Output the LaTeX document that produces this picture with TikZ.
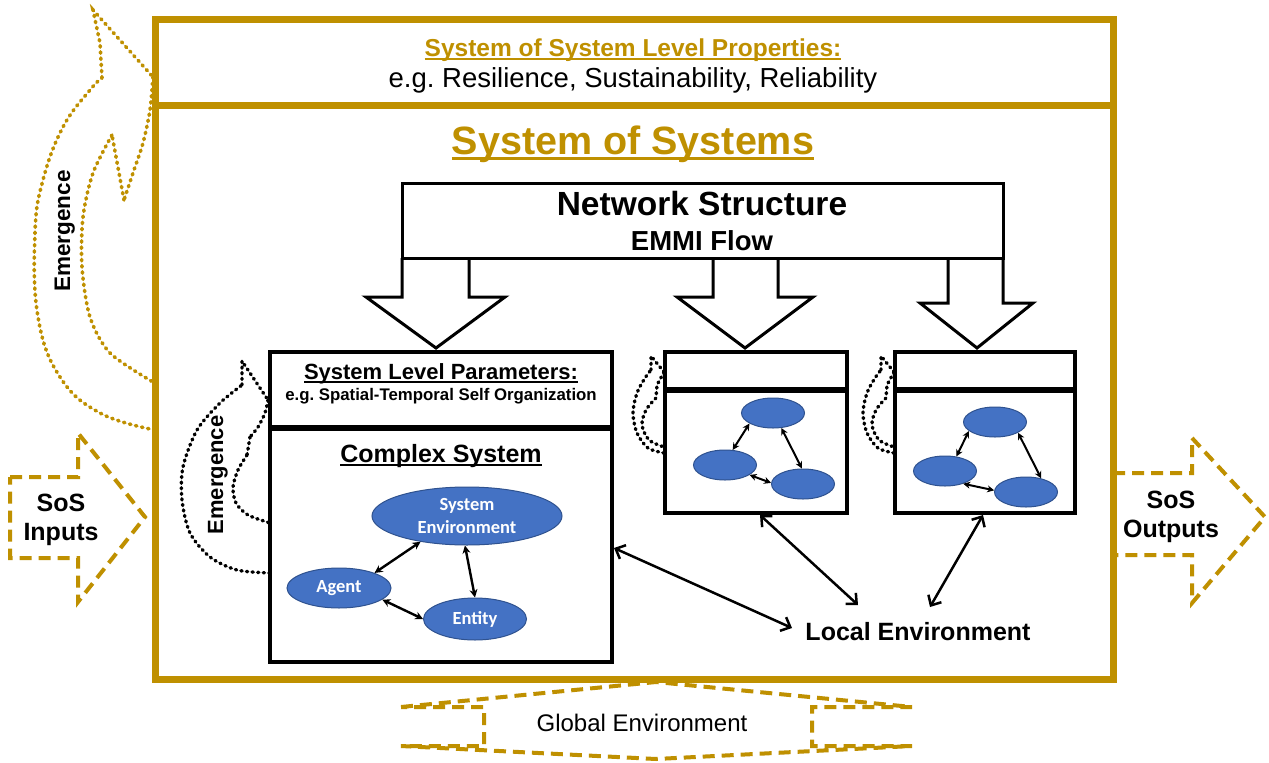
\documentclass[tikz,border=0pt]{standalone}
\usepackage{fontspec}
\setmainfont{Liberation Sans}
\newfontfamily\calib{Carlito}
\usetikzlibrary{arrows.meta,shapes.geometric}
\definecolor{gold}{RGB}{191,144,0}
\definecolor{eblue}{RGB}{68,114,196}
\definecolor{eborder}{RGB}{47,82,143}
\newcommand{\myul}[1]{\setbox0\hbox{#1}\leavevmode\rlap{\rule[-0.16em]{\wd0}{0.075em}}\box0}
\newcommand{\fsz}[1]{\fontsize{#1}{#1}\selectfont}
\frenchspacing
\begin{document}
\begin{tikzpicture}[x=1pt,y=-1pt,
  txt/.style={inner sep=0pt, anchor=base},
  bbox/.style={draw, line width=4pt, rectangle, inner sep=0pt},
  ell/.style={ellipse, fill=eblue, draw=eborder, line width=1pt, inner sep=0pt, text=white, font=\calib\bfseries\fontsize{18.5}{23}\selectfont, align=center},
  sell/.style={ellipse, fill=eblue, draw=eborder, line width=1pt, inner sep=0pt, minimum width=63pt, minimum height=30pt},
  sa/.style={line width=2.4pt, {Stealth[length=8pt,width=8pt]}-{Stealth[length=8pt,width=8pt]}},
  ssa/.style={line width=2pt, {Stealth[length=7pt,width=7pt]}-{Stealth[length=7pt,width=7pt]}},
  lea/.style={line width=2.5pt, {Straight Barb[length=8pt,width=15pt]}-{Straight Barb[length=8pt,width=15pt]}},
  gdash/.style={draw=gold, line width=4pt, dash pattern=on 12pt off 7pt},
  gdot/.style={draw=gold, line width=3.6pt, line cap=round, dash pattern=on 1.4pt off 4.8pt},
  bdot/.style={draw=black, line width=3.4pt, line cap=round, dash pattern=on 1.2pt off 4.4pt},
  barrow/.style={draw, line width=3pt, line join=miter}
]
\fill[white] (0,0) rectangle (1269,763);
\useasboundingbox (0,0) rectangle (1269,763);

% ---- gold emergence curved arrow (left)
\draw[gdot] plot[smooth, tension=0.7] coordinates {(155,430) (100,413) (60,377) (38,317) (35,233) (43,180) (63,127) (90,90) (102,78)};
\draw[gdot] (102,78) -- (100,43) -- (93,10) -- (153,77);
\draw[gdot] plot[smooth] coordinates {(153,77) (150,110) (143,143) (133,173) (124,200)};
\draw[gdot] (124,200) -- (112,135);
\draw[gdot] plot[smooth] coordinates {(112,135) (93,173) (83,217) (82,267) (90,317) (110,353) (153,382)};
\node[txt, rotate=90, font=\bfseries\fsz{22.5}] (emg1) at (70,231) {Emergence};

% ---- SoS inputs / outputs
\draw[gdash] (10,477) -- (78,477) -- (78,433) -- (145,517) -- (78,602) -- (78,558) -- (10,558) -- cycle;
\node[align=center, inner sep=0pt, font=\bfseries\fontsize{25}{29}\selectfont] (inp) at (61,520) {SoS\\Inputs};
\draw[gdash] (1113,473) -- (1192,473) -- (1192,438) -- (1265,517) -- (1192,603) -- (1192,555) -- (1113,555);
\node[align=center, inner sep=0pt, font=\bfseries\fontsize{25}{29}\selectfont] (outp) at (1171,517) {SoS\\Outputs};

% ---- global environment
\draw[gdash] (401,707) -- (656,682) -- (912,707) -- (812,707) -- (812,746) -- (912,746) -- (656,759) -- (401,746) -- (484,746) -- (484,707) -- cycle;
\node[txt, font=\fsz{24}] (glob) at (642,731) {Global Environment};

% ---- outer SoS frame
\node[draw=gold, line width=7pt, minimum width=958pt, minimum height=660pt, inner sep=0pt] (sos) at (634,349) {};
\draw[gold, line width=7pt] ([yshift=-90pt]sos.north west) -- ([yshift=-90pt]sos.north east);
\node[txt, text=gold, font=\bfseries\fsz{24.5}] (soslp) at (633,56) {\myul{System of System Level Properties:}};
\node[txt, font=\fsz{27.5}] (eg1) at (633,87) {e.g. Resilience, Sustainability, Reliability};
\node[txt, text=gold, font=\bfseries\fsz{39.5}] (sostitle) at (633,154) {\myul{System of Systems}};

% ---- network structure
\draw[barrow] (402,258) -- (402,297) -- (366,297) -- (436,348) -- (505,297) -- (469,297) -- (469,258);
\draw[barrow] (713,258) -- (713,297) -- (677,297) -- (745,348) -- (813,297) -- (778,297) -- (778,258);
\draw[barrow] (948,258) -- (948,303) -- (920,303) -- (977,348) -- (1033,303) -- (1003,303) -- (1003,258);
\node[draw, line width=3pt, minimum width=601pt, minimum height=75pt, inner sep=0pt] (net) at (702.5,220.5) {};
\node[txt, font=\bfseries\fsz{33.5}] (netname) at (702,215) {Network Structure};
\node[txt, font=\bfseries\fsz{27.5}] (emmi) at (702,250) {EMMI Flow};

% ---- complex system boxes
\node[bbox, minimum width=342pt, minimum height=310pt] (cs1) at (441,507) {};
\draw[line width=6pt] ([yshift=-78pt]cs1.north west) -- ([yshift=-78pt]cs1.north east);
\node[bbox, minimum width=182pt, minimum height=161pt] (cs2) at (756,432.5) {};
\draw[line width=6pt] ([yshift=-40pt]cs2.north west) -- ([yshift=-40pt]cs2.north east);
\node[bbox, minimum width=180pt, minimum height=161pt] (cs3) at (985,432.5) {};
\draw[line width=6pt] ([yshift=-40pt]cs3.north west) -- ([yshift=-40pt]cs3.north east);

\node[txt, font=\bfseries\fsz{22}] (slp) at (441,379) {\myul{System Level Parameters:}};
\node[txt, font=\bfseries\fsz{16.8}] (egs) at (441,400) {e.g. Spatial-Temporal Self Organization};
\node[txt, font=\bfseries\fsz{25}] (cstitle) at (441,462) {\myul{Complex System}};

\node[ell, minimum width=190pt, minimum height=58pt] (senv) at (467,516) {System\\Environment};
\node[ell, minimum width=104pt, minimum height=40pt] (agent) at (339,588) {Agent};
\node[ell, minimum width=103pt, minimum height=42pt] (entity) at (475,619) {Entity};
\draw[sa] (agent.23) -- (senv.209);
\draw[sa] (senv.266) -- (entity.90);
\draw[sa] (agent.345) -- (entity.180);

\node[sell] (b2a) at (773,413) {};
\node[sell] (b2b) at (725,465) {};
\node[sell] (b2c) at (803,484) {};
\draw[ssa] (b2a.204) -- (b2b.63);
\draw[ssa] (b2a.299) -- (b2c.94);
\draw[ssa] (b2b.338) -- (b2c.178);

\node[sell] (b3a) at (995,422) {};
\node[sell] (b3b) at (945,471) {};
\node[sell] (b3c) at (1026,492) {};
\draw[ssa] (b3a.199) -- (b3b.52);
\draw[ssa] (b3a.335) -- (b3c.42);
\draw[ssa] (b3b.325) -- (b3c.177);

% ---- small emergence arrows
\draw[bdot] plot[smooth] coordinates {(270,573) (237,570) (210,557) (190,533) (182,500) (183,467) (197,430) (220,403) (242,385)};
\draw[bdot] (242,385) -- (242,361) -- (268,400);
\draw[bdot] plot[smooth] coordinates {(268,400) (265,413) (258,427) (250,437)};
\draw[bdot] (250,437) -- (247,455);
\draw[bdot] plot[smooth] coordinates {(247,455) (238,470) (233,487) (236,503) (248,515) (270,523)};
\node[txt, rotate=90, font=\bfseries\fsz{22}] (emg2) at (223,475) {Emergence};

\foreach \dx in {0,230}{
\begin{scope}[xshift=\dx]
\draw[bdot] plot[smooth] coordinates {(664,453) (648,448) (637,433) (633,413) (637,393) (645,378) (651,370)};
\draw[bdot] (651,370) -- (651,356) -- (664,372);
\draw[bdot] (664,372) -- (657,385) -- (656,398);
\draw[bdot] plot[smooth] coordinates {(656,398) (646,410) (642,425) (649,440) (664,447)};
\end{scope}}

% ---- local environment
\node[txt, font=\bfseries\fsz{25}] (locenv) at (918,640) {Local Environment};
\draw[lea] ([yshift=-41pt]cs1.east) -- ([xshift=-126pt,yshift=12pt]locenv.base);
\draw[lea] ([xshift=4pt]cs2.south) -- ([xshift=-60pt,yshift=35pt]locenv.base);
\draw[lea] ([xshift=-2pt]cs3.south) -- ([xshift=12pt,yshift=33pt]locenv.base);
\end{tikzpicture}
\end{document}
